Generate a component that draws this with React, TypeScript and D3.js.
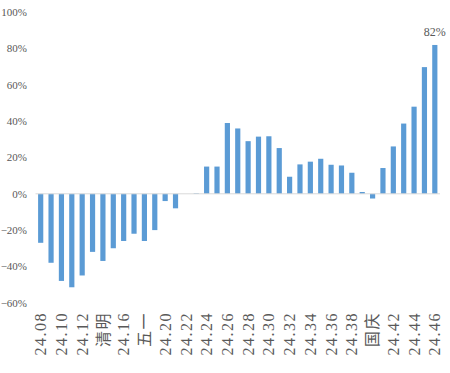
import * as d3 from "d3";

const categories = [
  "24.08", "24.09", "24.10", "24.11", "24.12", "24.13", "清明", "24.15", "24.16", "24.17",
  "五一", "24.19", "24.20", "24.21", "24.22", "24.23", "24.24", "24.25", "24.26", "24.27",
  "24.28", "24.29", "24.30", "24.31", "24.32", "24.33", "24.34", "24.35", "24.36", "24.37",
  "24.38", "24.39", "国庆", "24.41", "24.42", "24.43", "24.44", "24.45", "24.46",
];

const values = [
  -0.27, -0.38, -0.48, -0.515, -0.45, -0.32, -0.37, -0.3, -0.26, -0.22,
  -0.26, -0.2, -0.04, -0.08, 0, 0.003, 0.15, 0.15, 0.39, 0.36,
  0.29, 0.315, 0.317, 0.252, 0.094, 0.162, 0.177, 0.193, 0.16, 0.156,
  0.116, 0.01, -0.026, 0.142, 0.261, 0.387, 0.48, 0.698, 0.82,
];

const yTicks = [-0.6, -0.4, -0.2, 0, 0.2, 0.4, 0.6, 0.8, 1.0];

const W = 450;
const H = 373;
const serif = "Liberation Serif, DejaVu Serif, Noto Sans CJK SC, serif";

export default function App() {
  const x = d3.scaleBand<string>().domain(categories).range([35.5, 440]).paddingInner(0.5).paddingOuter(0.25);
  const y = d3.scaleLinear().domain([-0.6, 1.0]).range([302.7, 12.3]);
  const fmt = d3.format(".0%");
  const last = categories.length - 1;

  return (
    <svg width={W} height={H} style={{ position: "absolute", left: 0, top: 0, fontFamily: serif }}>
      <rect width={W} height={H} fill="#fff" />
      {yTicks.map((t) => (
        <text key={t} x={27} y={y(t)} dy="0.35em" textAnchor="end" fontSize={11} fill="#595959">
          {fmt(t)}
        </text>
      ))}
      {values.map((v, i) => (
        <rect
          key={i}
          x={x(categories[i])}
          width={x.bandwidth()}
          y={y(Math.max(0, v))}
          height={Math.abs(y(v) - y(0))}
          fill="#5B9BD5"
        />
      ))}
      <line x1={35.5} x2={440} y1={y(0)} y2={y(0)} stroke="#d9d9d9" strokeWidth={1} />
      <text
        x={x(categories[last])! + x.bandwidth() / 2}
        y={y(values[last]) - 9}
        textAnchor="middle"
        fontSize={12}
        fill="#595959"
      >
        {fmt(values[last])}
      </text>
      {categories.map((c, i) =>
        i % 2 === 0 ? (
          <text
            key={c}
            transform={`translate(${x(c)! + x.bandwidth() / 2},312) rotate(-90)`}
            dy="0.35em"
            textAnchor="end"
            fontSize={16}
            letterSpacing={1.5}
            fill="#595959"
          >
            {c}
          </text>
        ) : null
      )}
    </svg>
  );
}
